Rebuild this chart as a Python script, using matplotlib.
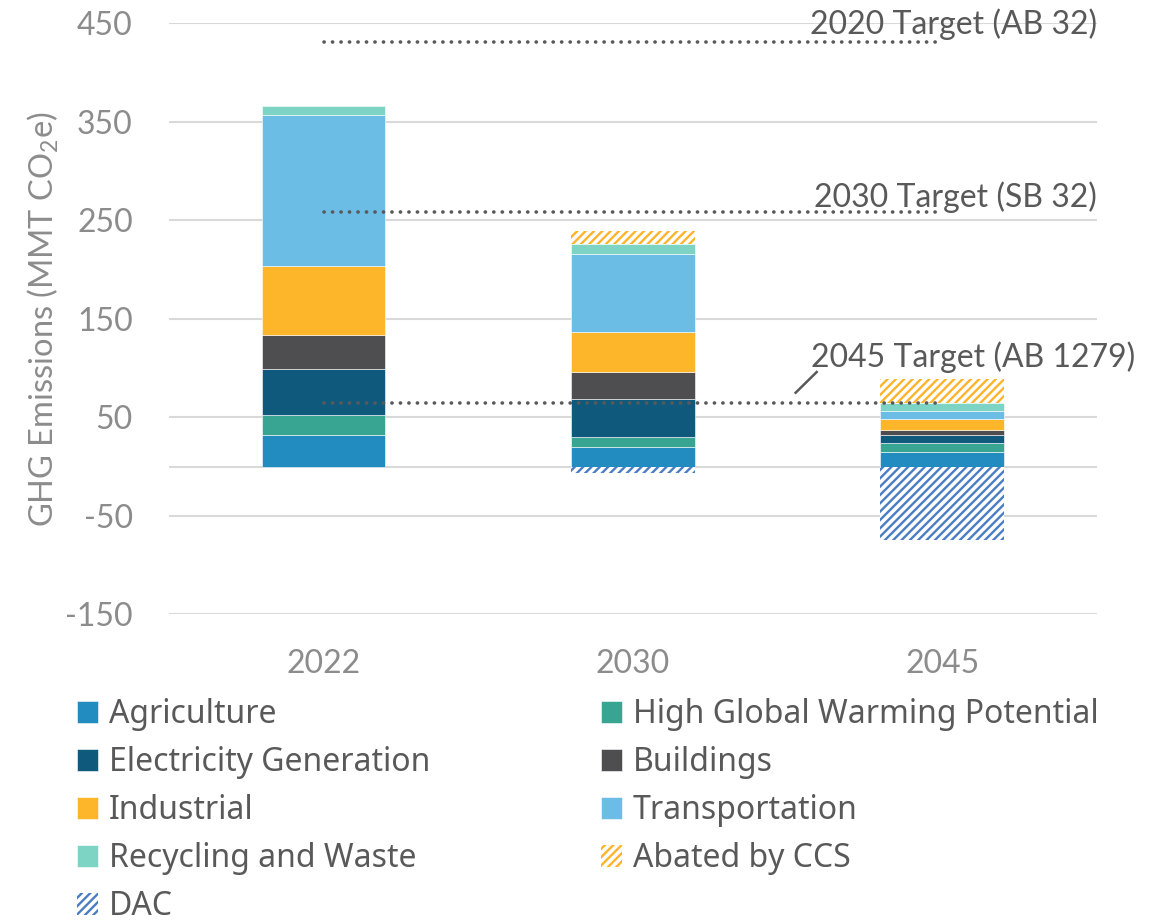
import numpy as np
import matplotlib
matplotlib.use('Agg')
import matplotlib.pyplot as plt

# values (MMT CO2e)
years = ['2022', '2030', '2045']
agriculture = [32, 19.6, 14.8]
high_gwp = [20, 10.4, 9.2]
electricity = [47, 39, 8]
buildings = [35, 27, 5]
industrial = [70, 40.5, 11]
transportation = [153, 79.5, 8]
recycling = [9.5, 10, 8.5]
abated_ccs = [0, 13, 24.7]
dac = [0, -7, -75]

target_values = [431, 258.6, 64.7]
target_labels = ['2020 Target (AB 32)', '2030 Target (SB 32)', '2045 Target (AB 1279)']

yticks = [-150, -50, 50, 150, 250, 350, 450]

plt.rcParams['hatch.linewidth'] = 1.7
plt.rcParams['axes.unicode_minus'] = False
plt.rcParams['mathtext.fontset'] = 'custom'
plt.rcParams['mathtext.rm'] = 'Lato'

tick_color = '#8c8c8c'
text_color = '#595959'
grid_color = '#d9d9d9'

fig = plt.figure(figsize=(11.65, 9.22), dpi=100)
ax = fig.add_axes([0.145, 0.3337, 0.7966, 0.641])

x = np.arange(len(years))
width = 0.4

solid = [
    ('Agriculture', agriculture, '#228bc0'),
    ('High Global Warming Potential', high_gwp, '#38a592'),
    ('Electricity Generation', electricity, '#0f5a7c'),
    ('Buildings', buildings, '#4e4e50'),
    ('Industrial', industrial, '#fdb52a'),
    ('Transportation', transportation, '#6bbde6'),
    ('Recycling and Waste', recycling, '#7dd4c5'),
]

handles = {}
bottom = np.zeros(len(years))
for name, vals, col in solid:
    vals = np.array(vals, dtype=float)
    b = ax.bar(x, vals, width, bottom=bottom, color=col, edgecolor='white',
               linewidth=0.4, zorder=3)
    handles[name] = b
    bottom += vals

b = ax.bar(x, abated_ccs, width, bottom=bottom, facecolor='white',
           edgecolor='#fdb42a', hatch='////', linewidth=0, zorder=3)
handles['Abated by CCS'] = b
b = ax.bar(x, dac, width, facecolor='white', edgecolor='#4a7dc4',
           hatch='////', linewidth=0, zorder=3)
handles['DAC'] = b

# target lines
for t in target_values:
    ax.plot([0, 1.99], [t, t], color=text_color, linewidth=2.6,
            dashes=(0.05, 2.3), dash_capstyle='round', zorder=4)

ax.text(2.5, 449, target_labels[0], ha='right', va='center', fontsize=23,
        family='Lato', color=text_color, zorder=5, clip_on=False)
ax.text(2.5, 273, target_labels[1], ha='right', va='center', fontsize=23,
        family='Lato', color=text_color, zorder=5, clip_on=False)
ax.text(2.623, 111, target_labels[2], ha='right', va='center', fontsize=23,
        family='Lato', color=text_color, zorder=5, clip_on=False)
ax.plot([1.526, 1.594], [75, 96], color=text_color, linewidth=1.8,
        zorder=5, clip_on=False)

ax.set_xlim(-0.5, 2.5)
ax.set_ylim(-150, 450)
ax.set_xticks(x)
ax.set_xticklabels(years)
ax.set_yticks(yticks)
ax.tick_params(length=0, labelsize=23, labelcolor=tick_color)
ax.tick_params(axis='y', pad=26)
ax.tick_params(axis='x', pad=25)
for lab in ax.get_xticklabels() + ax.get_yticklabels():
    lab.set_family('Lato')

ax.grid(axis='y', color=grid_color, linewidth=1.5, zorder=0)
ax.axhline(0, color=grid_color, linewidth=1.5, zorder=1)
for s in ax.spines.values():
    s.set_visible(False)

ax.set_ylabel('GHG Emissions (MMT CO$_\\mathregular{2}$e)', fontsize=23.5,
              color=tick_color, family='Lato')
ax.yaxis.set_label_coords(-0.116, 0.5)

# legend in two columns, pinned separately
col1 = ['Agriculture', 'Electricity Generation', 'Industrial', 'Recycling and Waste', 'DAC']
col2 = ['High Global Warming Potential', 'Buildings', 'Transportation', 'Abated by CCS']
leg_kw = dict(loc='upper left', frameon=False, labelcolor=text_color,
              handlelength=0.66, handleheight=0.66, handletextpad=0.33,
              labelspacing=0.47, borderpad=0, borderaxespad=0,
              prop={'family': 'Noto Sans', 'size': 23})
fig.legend([handles[n] for n in col1], col1, bbox_to_anchor=(77 / 1165, 1 - 698 / 922), **leg_kw)
fig.legend([handles[n] for n in col2], col2, bbox_to_anchor=(601 / 1165, 1 - 698 / 922), **leg_kw)

plt.savefig('out.png', dpi=100)
